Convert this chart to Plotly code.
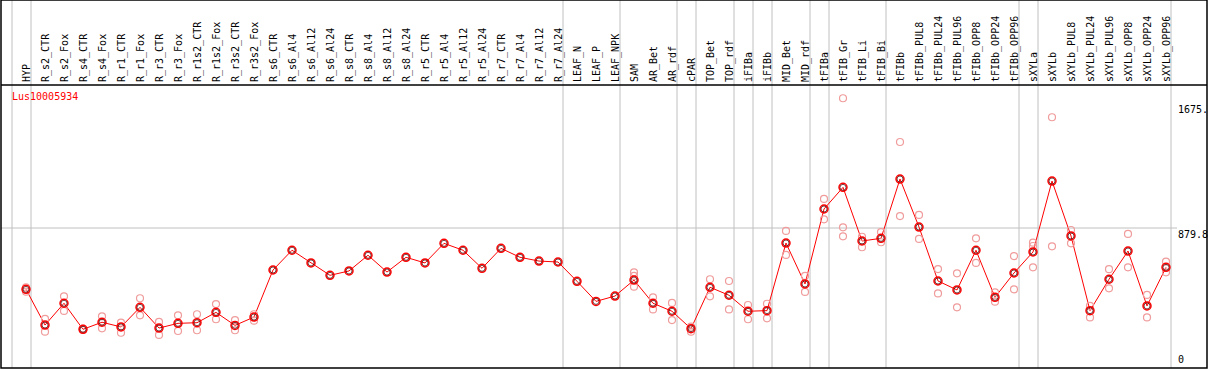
import plotly.graph_objects as go

title_text = "Lus10005934"

categories = [
    "HYP", "R_s2_CTR", "R_s2_Fox", "R_s4_CTR", "R_s4_Fox", "R_r1_CTR", "R_r1_Fox",
    "R_r3_CTR", "R_r3_Fox", "R_r1s2_CTR", "R_r1s2_Fox", "R_r3s2_CTR", "R_r3s2_Fox",
    "R_s6_CTR", "R_s6_Al4", "R_s6_Al12", "R_s6_Al24", "R_s8_CTR", "R_s8_Al4",
    "R_s8_Al12", "R_s8_Al24", "R_r5_CTR", "R_r5_Al4", "R_r5_Al12", "R_r5_Al24",
    "R_r7_CTR", "R_r7_Al4", "R_r7_Al12", "R_r7_Al24", "LEAF_N", "LEAF_P", "LEAF_NPK",
    "SAM", "AR_Bet", "AR_rdf", "cPAR", "TOP_Bet", "TOP_rdf", "iFIBa", "iFIBb",
    "MID_Bet", "MID_rdf", "tFIBa", "tFIB_Gr", "tFIB_Li", "tFIB_Bi", "tFIBb",
    "tFIBb_PUL8", "tFIBb_PUL24", "tFIBb_PUL96", "tFIBb_OPP8", "tFIBb_OPP24",
    "tFIBb_OPP96", "sXYLa", "sXYLb", "sXYLb_PUL8", "sXYLb_PUL24", "sXYLb_PUL96",
    "sXYLb_OPP8", "sXYLb_OPP24", "sXYLb_OPP96",
]

means = [
    489, 261, 400, 234, 279, 249, 374, 242, 272, 276, 342, 259, 312,
    612, 738, 657, 578, 606, 706, 599, 693, 657, 782, 738, 623,
    750, 693, 669, 663, 540, 412, 446,
    548, 400, 349, 238, 502, 451, 349, 353,
    784, 523, 1001, 1139, 797, 814, 1192,
    886, 542, 485, 738, 438, 593,
    727, 1179, 829, 353, 553, 733, 383, 629,
]

replicates = [
    [502, 474], [300, 219], [444, 351], [230, 238], [317, 240], [276, 212], [432, 323],
    [281, 198], [323, 223], [330, 228], [395, 298], [293, 228], [330, 289],
    [], [], [], [], [], [], [], [], [], [], [], [],
    [], [], [], [], [], [], [],
    [597, 574, 506], [438, 361], [402, 293], [251, 219], [553, 444], [542, 361],
    [389, 298], [397, 304],
    [861, 708], [574, 472], [1065, 935], [1707, 884, 827], [824, 757], [854, 789],
    [1428, 956],
    [963, 810], [618, 463], [591, 374], [814, 657], [470, 410], [701, 489],
    [786, 765, 629], [1586, 763], [867, 782], [383, 310], [617, 495], [842, 629],
    [453, 310], [665, 597],
]

# groups end after these categories (a separator line follows each)
group_ends = [
    "HYP", "R_r7_Al24", "LEAF_NPK", "AR_rdf", "cPAR", "TOP_rdf", "iFIBa", "iFIBb",
    "MID_rdf", "tFIBa", "tFIB_Bi", "tFIBb_OPP96", "sXYLa", "sXYLb_OPP96",
]

axis_labels = ["1675.", "879.8", "0"]
axis_values = [1675, 879.8, 0]
grid_value = 879.8

y_range = [-12.75, 1791.5]
x_range = [-1.3158, 62.158]

FONT = "DejaVu Sans Mono"
RED = "#ff0000"
PINK = "#f09c9c"
GRAY = "#c0c0c0"

rep_x, rep_y = [], []
for c, reps in zip(categories, replicates):
    for v in reps:
        rep_x.append(c)
        rep_y.append(v)

fig = go.Figure()

fig.add_trace(go.Scatter(
    x=categories, y=means, mode="lines",
    line=dict(color=RED, width=1),
    hoverinfo="skip", showlegend=False,
))
fig.add_trace(go.Scatter(
    x=rep_x, y=rep_y, mode="markers",
    marker=dict(symbol="circle-open", size=7, color=PINK, line=dict(width=1.2, color=PINK)),
    hoverinfo="skip", showlegend=False,
))
fig.add_trace(go.Scatter(
    x=categories, y=means, mode="markers",
    marker=dict(symbol="circle-open", size=8, color=RED, line=dict(width=1.5, color=RED)),
    showlegend=False,
))
fig.add_trace(go.Scatter(
    x=categories, y=means, mode="markers",
    marker=dict(symbol="circle-open", size=6, color="#400000", line=dict(width=0.7, color="#400000")),
    hoverinfo="skip", showlegend=False,
))

shapes = []
top_paper = 1 + 85 / 283
# separator lines spanning the full height
shapes.append(dict(type="line", xref="x", yref="paper", x0=-1 + 5 / 19, x1=-1 + 5 / 19,
                   y0=0, y1=top_paper, line=dict(color=GRAY, width=1), layer="below"))
for name in group_ends:
    i = categories.index(name)
    xv = i + 5 / 19
    shapes.append(dict(type="line", xref="x", yref="paper", x0=xv, x1=xv,
                       y0=0, y1=top_paper, line=dict(color=GRAY, width=1), layer="below"))
# horizontal grid line
shapes.append(dict(type="line", xref="paper", yref="y", x0=0, x1=(1177 - 1) / 1206,
                   y0=grid_value, y1=grid_value, line=dict(color=GRAY, width=1), layer="below"))
# frame
shapes.append(dict(type="rect", xref="paper", yref="paper", x0=0, x1=1, y0=0, y1=top_paper,
                   line=dict(color="black", width=1.5)))
shapes.append(dict(type="line", xref="paper", yref="paper", x0=0, x1=1, y0=1, y1=1,
                   line=dict(color="black", width=1.5)))

annotations = [
    dict(text=title_text, xref="paper", yref="paper", x=(10 - 1) / 1206, y=(368 - 97) / 283,
         xanchor="left", yanchor="middle", showarrow=False,
         font=dict(family=FONT, size=10, color=RED)),
]
for lab, val in zip(axis_labels, axis_values):
    annotations.append(dict(
        text=lab, xref="paper", yref="y", x=(1177 - 1) / 1206, y=val,
        xanchor="left", yanchor="bottom" if val == 0 else "top", showarrow=False,
        borderpad=0,
        font=dict(family=FONT, size=10, color="black"),
    ))

fig.update_layout(
    width=1209, height=370,
    margin=dict(l=1, r=2, t=85, b=2, pad=0),
    paper_bgcolor="white", plot_bgcolor="white",
    shapes=shapes, annotations=annotations,
    xaxis=dict(type="category", categoryorder="array", categoryarray=categories,
               range=x_range, side="top", tickangle=-90,
               ticklabelstandoff=2, ticklabelshift=1,
               showgrid=False, zeroline=False, showline=False, ticks="",
               tickfont=dict(family=FONT, size=10, color="black")),
    yaxis=dict(range=y_range, showgrid=False, zeroline=False, showline=False,
               showticklabels=False, ticks=""),
    showlegend=False,
)

fig.write_html("out.html", config={"displayModeBar": False},
               post_script="document.body.style.margin='0';document.body.style.overflow='hidden';")
